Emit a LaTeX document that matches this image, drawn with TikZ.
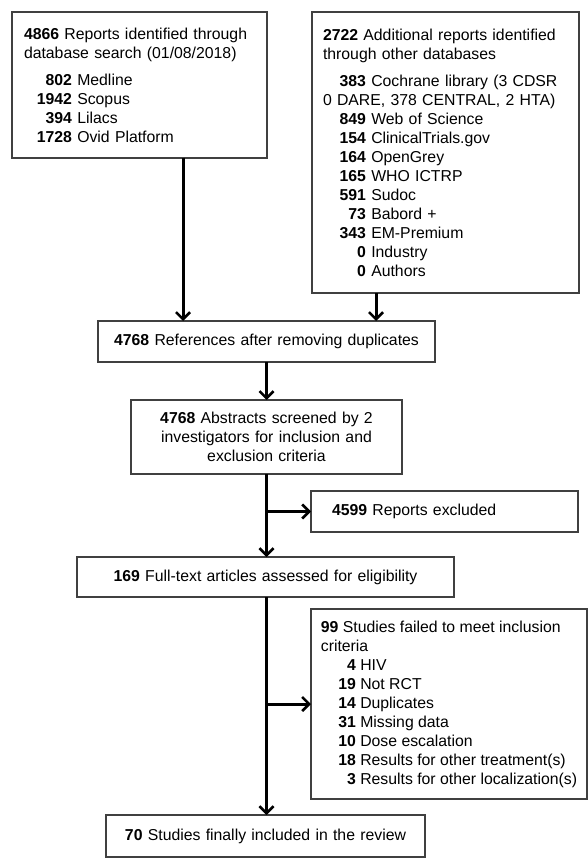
\documentclass[tikz,border=0pt]{standalone}
\usepackage{fontspec}
\setmainfont{Liberation Sans}
\usetikzlibrary{arrows.meta}

\newcommand{\cnt}[2]{\makebox[#1][r]{\textbf{#2}}}

\tikzset{
    box/.style={draw=black!75, line width=1.1pt, rectangle, anchor=north west,
        inner ysep=2pt, outer sep=0pt, font=\fontsize{15.8}{19}\selectfont},
    arr/.style={line width=3pt, -{Straight Barb[length=7pt,width=14pt,line width=2.6pt]}}
}

\begin{document}
\begin{tikzpicture}[x=1pt,y=-1pt]
                \useasboundingbox (0,0) rectangle (588,858);

                %Nodes
                \node[box, inner xsep=12pt, text width=231pt, minimum height=146pt, align=left] at (12,12) (search) {%
                    \textbf{4866} Reports identified through\\database search (01/08/2018)\\[8pt]
                    \cnt{48pt}{802} Medline\\
                    \cnt{48pt}{1942} Scopus\\
                    \cnt{48pt}{394} Lilacs\\
                    \cnt{48pt}{1728} Ovid Platform};
                \node[box, inner xsep=11pt, text width=245pt, minimum height=281pt, align=left] at (312,12) (other) {%
                    \textbf{2722} Additional reports identified\\through other databases\\[8pt]
                    \cnt{43pt}{383} Cochrane library (3 CDSR\\
                    0 DARE, 378 CENTRAL, 2 HTA)\\
                    \cnt{43pt}{849} Web of Science\\
                    \cnt{43pt}{154} ClinicalTrials.gov\\
                    \cnt{43pt}{164} OpenGrey\\
                    \cnt{43pt}{165} WHO ICTRP\\
                    \cnt{43pt}{591} Sudoc\\
                    \cnt{43pt}{73} Babord +\\
                    \cnt{43pt}{343} EM-Premium\\
                    \cnt{43pt}{0} Industry\\
                    \cnt{43pt}{0} Authors};
                \node[box, inner xsep=12pt, text width=313pt, minimum height=41pt, align=center] at (98,321) (refs) {\textbf{4768} References after removing duplicates};
                \node[box, inner xsep=12pt, text width=247pt, minimum height=74pt, align=center] at (131,400) (abstracts) {\textbf{4768} Abstracts screened by 2\\investigators for inclusion and\\exclusion criteria};
                \node[box, inner xsep=21pt, text width=225pt, minimum height=41pt, align=left] at (311,491) (excluded) {\textbf{4599} Reports excluded};
                \node[box, inner xsep=12pt, text width=353pt, minimum height=40pt, align=center] at (77,557) (fulltext) {\textbf{169} Full-text articles assessed for eligibility};
                \node[box, inner xsep=8pt, minimum width=276pt, minimum height=190pt, align=left] at (311,609) (failed) {%
                    \textbf{99} Studies failed to meet inclusion\\criteria\\
                    \cnt{35pt}{4} HIV\\
                    \cnt{35pt}{19} Not RCT\\
                    \cnt{35pt}{14} Duplicates\\
                    \cnt{35pt}{31} Missing data\\
                    \cnt{35pt}{10} Dose escalation\\
                    \cnt{35pt}{18} Results for other treatment(s)\\
                    \cnt{35pt}{3} Results for other localization(s)};
                \node[box, inner xsep=12pt, text width=295pt, minimum height=42pt, align=center] at (106,815) (included) {\textbf{70} Studies finally included in the review};

                \coordinate (colA) at (183,0);
                \coordinate (colB) at (376,0);

                %Lines
                \draw[arr] (search.south -| colA) -- (refs.north -| colA);
                \draw[arr] (other.south -| colB) -- (refs.north -| colB);
                \draw[arr] (refs.south) -- (abstracts.north);
                \draw[arr] (abstracts.south) -- (abstracts.south |- fulltext.north);
                \draw[arr] (abstracts.south |- excluded.west) -- (excluded.west);
                \draw[arr] (fulltext.south -| abstracts.south) -- (included.north -| abstracts.south);
                \draw[arr] (abstracts.south |- failed.west) -- (failed.west);
            \end{tikzpicture}
\end{document}
